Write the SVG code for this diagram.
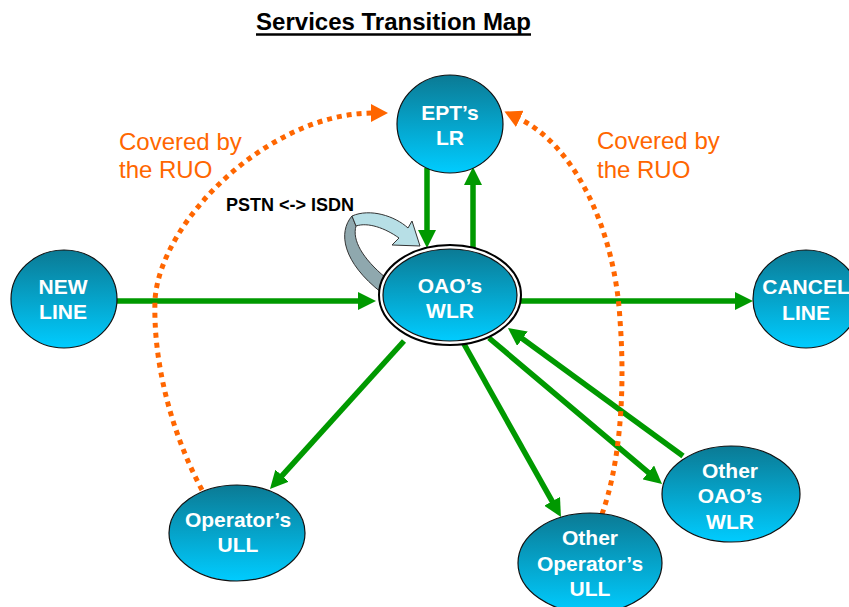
<svg xmlns="http://www.w3.org/2000/svg" width="849" height="607" viewBox="0 0 849 607">
<style>
.node{fill:url(#ng);stroke:#111;stroke-width:1.2}
.nt{font-family:"Liberation Sans",Arial,sans-serif;font-weight:bold;font-size:21px;fill:#fff;text-anchor:middle}
.g{stroke:#009900;stroke-width:5.5;fill:none;marker-end:url(#ga)}
.o{stroke:#ff6600;stroke-width:5;fill:none;stroke-dasharray:5 5;marker-end:url(#oa)}
.cov{font-family:"Liberation Sans",Arial,sans-serif;font-size:24px;fill:#ff6600}
</style>
<defs>
<linearGradient id="ng" x1="0" y1="0" x2="0" y2="1">
<stop offset="0" stop-color="#0b7a94"/>
<stop offset="1" stop-color="#00ccff"/>
</linearGradient>
<marker id="ga" markerUnits="userSpaceOnUse" viewBox="0 0 18 18" markerWidth="18" markerHeight="18" refX="5" refY="9" orient="auto">
<path d="M0,0 L18,9 L0,18 Z" fill="#009900"/>
</marker>
<marker id="oa" markerUnits="userSpaceOnUse" viewBox="0 0 17 18" markerWidth="17" markerHeight="18" refX="2" refY="9" orient="auto">
<path d="M0,0 L17,9 L0,18 Z" fill="#ff6600"/>
</marker>
</defs>
<rect width="849" height="607" fill="#fff"/>

<g id="title">
<text x="393.5" y="30" font-family="Liberation Sans,Arial,sans-serif" font-weight="bold" font-size="24" text-anchor="middle" fill="#000">Services Transition Map</text>
<line x1="256" y1="34.5" x2="531" y2="34.5" stroke="#000" stroke-width="2.5"/>
</g>

<g id="labels">
<text class="cov" x="119" y="150">Covered by</text>
<text class="cov" x="119" y="178">the RUO</text>
<text class="cov" x="597" y="149">Covered by</text>
<text class="cov" x="597" y="178">the RUO</text>
<text x="226" y="211" font-family="Liberation Sans,Arial,sans-serif" font-weight="bold" font-size="18" fill="#000">PSTN &lt;-&gt; ISDN</text>
</g>

<g id="connectors">
<line class="g" x1="427" y1="168" x2="427" y2="235"/>
<line class="g" x1="473" y1="248" x2="473" y2="180"/>
<line class="g" x1="117" y1="301" x2="363" y2="301"/>
<line class="g" x1="521" y1="301" x2="740" y2="301"/>
<line class="g" x1="404" y1="341" x2="278.7" y2="479.4"/>
<line class="g" x1="464" y1="344" x2="554.6" y2="505.7"/>
<line class="g" x1="489" y1="338" x2="652.1" y2="475.6"/>
<line class="g" x1="683" y1="456" x2="518.4" y2="335.7"/>
<path class="o" d="M202,490 C170,430 153,360 155,300 C160,220 270,113 373,113"/>
<path class="o" d="M602,514 C618,470 626,400 620,320 C615,230 575,145 518,118"/>
<g id="pstn-isdn-loop" stroke="#333" stroke-width="1">
<path d="M352,216 C338,232 342,262 382,293 L386,278 C362,258 352,240 356,226 Z" fill="#8fa8ae"/>
<path d="M352,216 C370,208 395,216 408,228 L412,221 L420,246 L392,245 L399,238 C385,228 368,222 356,226 Z" fill="#b7dfe6"/>
</g>
</g>

<g id="node-ept">
<ellipse class="node" cx="450" cy="124" rx="53" ry="49"/>
<text class="nt" x="450" y="120">EPT’s</text>
<text class="nt" x="450" y="145">LR</text>
</g>
<g id="node-newline">
<ellipse class="node" cx="64" cy="299" rx="53" ry="49"/>
<text class="nt" x="63" y="294">NEW</text>
<text class="nt" x="63" y="319">LINE</text>
</g>
<g id="node-cancelline">
<ellipse class="node" cx="806" cy="299" rx="53" ry="49"/>
<text class="nt" x="806" y="294">CANCEL</text>
<text class="nt" x="806" y="320">LINE</text>
</g>
<g id="node-oao-wlr">
<ellipse cx="450" cy="295" rx="71" ry="50" fill="#fff" stroke="#000" stroke-width="2"/>
<ellipse class="node" cx="450" cy="295" rx="67" ry="46" stroke="#000" stroke-width="1.6"/>
<text class="nt" x="450" y="293">OAO’s</text>
<text class="nt" x="450" y="318">WLR</text>
</g>
<g id="node-operator-ull">
<ellipse class="node" cx="237" cy="533" rx="68" ry="48"/>
<text class="nt" x="238" y="527">Operator’s</text>
<text class="nt" x="238" y="552">ULL</text>
</g>
<g id="node-other-operator-ull">
<ellipse class="node" cx="590" cy="563" rx="72" ry="50"/>
<text class="nt" x="590" y="545">Other</text>
<text class="nt" x="590" y="571">Operator’s</text>
<text class="nt" x="590" y="596">ULL</text>
</g>
<g id="node-other-oao-wlr">
<ellipse class="node" cx="731" cy="494" rx="69" ry="48"/>
<text class="nt" x="730" y="478">Other</text>
<text class="nt" x="730" y="503">OAO’s</text>
<text class="nt" x="730" y="529">WLR</text>
</g>
</svg>
